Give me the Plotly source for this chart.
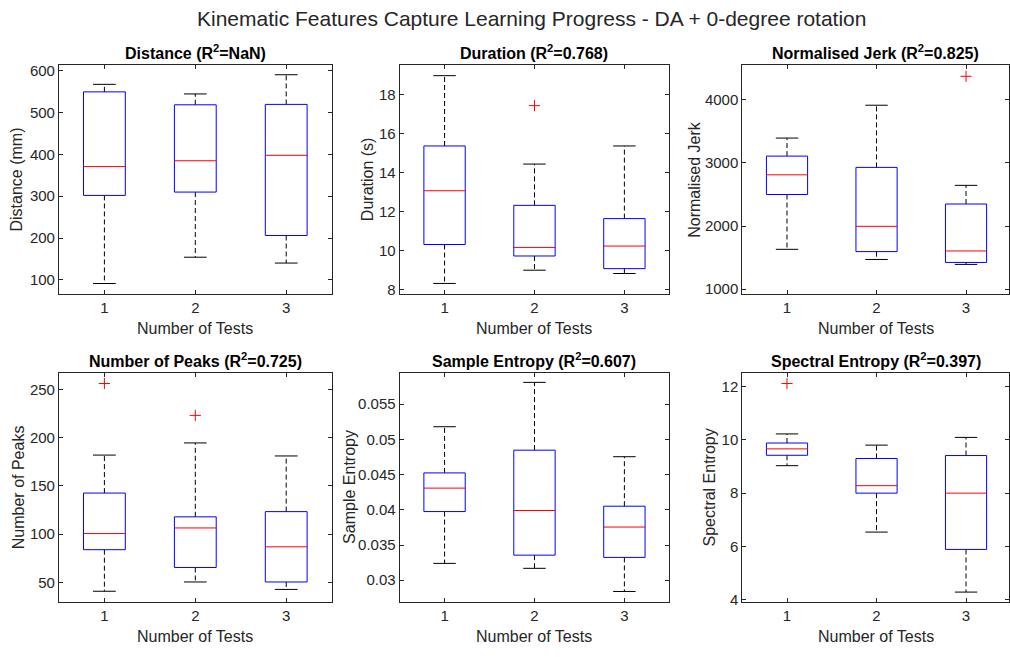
import plotly.graph_objects as go

# Test sessions on the x axis
tests = [1, 2, 3]
tick_text = ["1", "2", "3"]

# Per-feature box statistics: lower whisker, Q1, median, Q3, upper whisker, outliers
distance_lo = [91, 154, 140]
distance_q1 = [302, 310, 206]
distance_med = [371, 385, 398]
distance_q3 = [550, 519, 520]
distance_hi = [568, 545, 591]
distance_out = [[], [], []]

duration_lo = [8.32, 9.0, 8.83]
duration_q1 = [10.32, 9.73, 9.08]
duration_med = [13.08, 10.17, 10.24]
duration_q3 = [15.38, 12.33, 11.65]
duration_hi = [18.99, 14.45, 15.38]
duration_out = [[], [17.45], []]

jerk_lo = [1630, 1469, 1391]
jerk_q1 = [2500, 1594, 1422]
jerk_med = [2812, 1995, 1604]
jerk_q3 = [3109, 2930, 2349]
jerk_hi = [3395, 3916, 2645]
jerk_out = [[], [], [4375]]

peaks_lo = [41, 50.6, 42.9]
peaks_q1 = [84, 65.6, 50.6]
peaks_med = [100.7, 106.5, 87]
peaks_q3 = [142.6, 118, 123.4]
peaks_hi = [181.9, 194.5, 181]
peaks_out = [[256], [223], []]

sampen_lo = [0.03239, 0.03169, 0.0284]
sampen_q1 = [0.03975, 0.03356, 0.03324]
sampen_med = [0.04308, 0.0399, 0.03755]
sampen_q3 = [0.04524, 0.04847, 0.04051]
sampen_hi = [0.0518, 0.0581, 0.04754]
sampen_out = [[], [], []]

specen_lo = [9.03, 6.54, 4.29]
specen_q1 = [9.42, 8.0, 5.89]
specen_med = [9.66, 8.28, 8.0]
specen_q3 = [9.88, 9.30, 9.41]
specen_hi = [10.22, 9.80, 10.09]
specen_out = [[12.11], [], []]

titles = [
    "Distance (R<sup>2</sup>=NaN)",
    "Duration (R<sup>2</sup>=0.768)",
    "Normalised Jerk (R<sup>2</sup>=0.825)",
    "Number of Peaks (R<sup>2</sup>=0.725)",
    "Sample Entropy (R<sup>2</sup>=0.607)",
    "Spectral Entropy (R<sup>2</sup>=0.397)",
]
ylabels = ["Distance (mm)", "Duration (s)", "Normalised Jerk",
           "Number of Peaks", "Sample Entropy", "Spectral Entropy"]

y_ranges = [[66, 614], [7.78, 19.53], [922, 4552],
            [30.2, 267], [0.02695, 0.05945], [3.93, 12.51]]
y_ticks = [
    [100, 200, 300, 400, 500, 600],
    [8, 10, 12, 14, 16, 18],
    [1000, 2000, 3000, 4000],
    [50, 100, 150, 200, 250],
    [0.03, 0.035, 0.04, 0.045, 0.05, 0.055],
    [4, 6, 8, 10, 12],
]
y_ticktext = [
    ["100", "200", "300", "400", "500", "600"],
    ["8", "10", "12", "14", "16", "18"],
    ["1000", "2000", "3000", "4000"],
    ["50", "100", "150", "200", "250"],
    ["0.03", "0.035", "0.04", "0.045", "0.05", "0.055"],
    ["4", "6", "8", "10", "12"],
]

stats = [
    (distance_lo, distance_q1, distance_med, distance_q3, distance_hi, distance_out),
    (duration_lo, duration_q1, duration_med, duration_q3, duration_hi, duration_out),
    (jerk_lo, jerk_q1, jerk_med, jerk_q3, jerk_hi, jerk_out),
    (peaks_lo, peaks_q1, peaks_med, peaks_q3, peaks_hi, peaks_out),
    (sampen_lo, sampen_q1, sampen_med, sampen_q3, sampen_hi, sampen_out),
    (specen_lo, specen_q1, specen_med, specen_q3, specen_hi, specen_out),
]

W, H = 1010, 657
# axes boxes in pixels: (left, right, top, bottom)
boxes_px = [
    (59, 332, 63, 295), (400, 670, 63, 295), (743, 1010, 63, 295),
    (59, 332, 375, 607), (400, 670, 375, 607), (743, 1010, 375, 607),
]
ytitle_shift = [-42, -32, -48, -41, -50, -33]
x_ranges = [[0.5, 3.5], [0.5, 3.5], [0.5, 3.48], [0.5, 3.5], [0.5, 3.5], [0.5, 3.48]]

AX = "#262626"
FONT = "Liberation Sans, Arial, Helvetica, sans-serif"
half_w = 0.23   # half box width
half_c = 0.125  # half cap width

fig = go.Figure()
annotations = []

for k in range(6):
    lo, q1, med, q3, hi, out = stats[k]
    n = str(k + 1) if k else ""
    xa, ya = "x" + n, "y" + n

    wx, wy, cx, cy, bx, by, mx, my, ox, oy = [], [], [], [], [], [], [], [], [], []
    for i, t in enumerate(tests):
        wx += [t, t, None, t, t, None]
        wy += [q3[i], hi[i], None, q1[i], lo[i], None]
        cx += [t - half_c, t + half_c, None, t - half_c, t + half_c, None]
        cy += [hi[i], hi[i], None, lo[i], lo[i], None]
        bx += [t - half_w, t + half_w, t + half_w, t - half_w, t - half_w, None]
        by += [q1[i], q1[i], q3[i], q3[i], q1[i], None]
        mx += [t - half_w, t + half_w, None]
        my += [med[i], med[i], None]
        for v in out[i]:
            ox.append(t)
            oy.append(v)

    common = dict(xaxis=xa, yaxis=ya, showlegend=False, hoverinfo="skip")
    fig.add_trace(go.Scatter(x=wx, y=wy, mode="lines",
                             line=dict(color="black", width=1, dash="5px,3px"), **common))
    fig.add_trace(go.Scatter(x=cx, y=cy, mode="lines",
                             line=dict(color="black", width=1), **common))
    fig.add_trace(go.Scatter(x=bx, y=by, mode="lines",
                             line=dict(color="#0000ff", width=1), **common))
    fig.add_trace(go.Scatter(x=mx, y=my, mode="lines",
                             line=dict(color="#ff0000", width=1), **common))
    if ox:
        fig.add_trace(go.Scatter(x=ox, y=oy, mode="markers",
                                 marker=dict(symbol="cross-thin", size=8,
                                             line=dict(color="#ff0000", width=1)),
                                 **common))

    l, r, t_, b = boxes_px[k]
    xdom = [l / W, min(r / W, 1.0)]
    ydom = [1 - b / H, 1 - t_ / H]
    xkey = "xaxis" + n
    ykey = "yaxis" + n
    fig.layout[xkey] = dict(
        domain=xdom, range=x_ranges[k], anchor=ya,
        tickmode="array", tickvals=tests, ticktext=tick_text,
        ticks="inside", ticklen=4, tickcolor=AX, tickwidth=1,
        showline=True, linecolor=AX, linewidth=1, mirror="ticks",
        showgrid=False, zeroline=False,
        tickfont=dict(family=FONT, size=15, color=AX),
    )
    fig.layout[ykey] = dict(
        domain=ydom, range=y_ranges[k], anchor=xa,
        tickmode="array", tickvals=y_ticks[k], ticktext=y_ticktext[k],
        ticks="inside", ticklen=4, tickcolor=AX, tickwidth=1,
        showline=True, linecolor=AX, linewidth=1, mirror="ticks",
        showgrid=False, zeroline=False,
        tickfont=dict(family=FONT, size=15, color=AX),
    )

    xmid = (xdom[0] + xdom[1]) / 2
    ymid = (ydom[0] + ydom[1]) / 2
    # subplot title
    annotations.append(dict(
        text="<b>" + titles[k] + "</b>", xref="paper", yref="paper",
        x=xmid, y=ydom[1], yanchor="bottom", xanchor="center", yshift=1,
        showarrow=False, font=dict(family=FONT, size=16, color="black"),
    ))
    # x axis title
    annotations.append(dict(
        text="Number of Tests", xref="paper", yref="paper",
        x=xmid, y=ydom[0], yanchor="middle", xanchor="center", yshift=-35,
        showarrow=False, font=dict(family=FONT, size=16, color=AX),
    ))
    # y axis title
    annotations.append(dict(
        text=ylabels[k], xref="paper", yref="paper",
        x=xdom[0], y=ymid, xanchor="center", yanchor="middle",
        xshift=ytitle_shift[k], textangle=-90, showarrow=False,
        font=dict(family=FONT, size=16, color=AX),
    ))

annotations.append(dict(
    text="Kinematic Features Capture Learning Progress - DA + 0-degree rotation",
    xref="paper", yref="paper", x=532 / W, y=1 - 16 / H,
    xanchor="center", yanchor="middle", showarrow=False,
    font=dict(family=FONT, size=21, color=AX),
))

fig.update_layout(
    width=W, height=H,
    margin=dict(l=0, r=0, t=0, b=0),
    paper_bgcolor="white", plot_bgcolor="white",
    annotations=annotations,
)

fig.write_html("out.html")
